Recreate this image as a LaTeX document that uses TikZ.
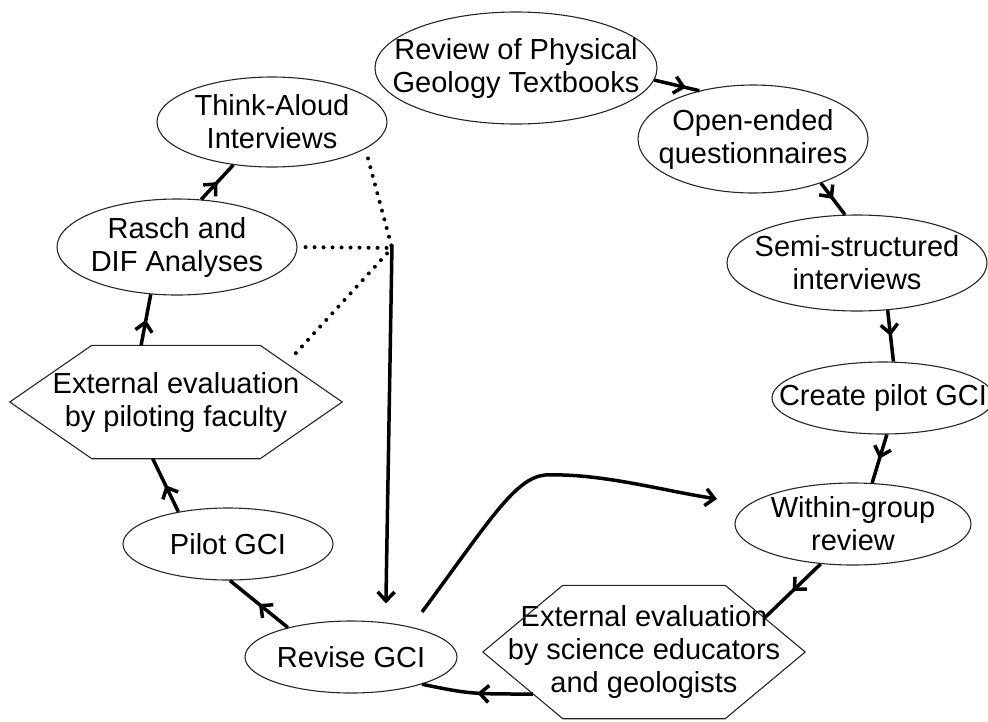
\documentclass[tikz,border=0pt]{standalone}
\usepackage{fontspec}
\setmainfont{Liberation Sans}
\usetikzlibrary{shapes,arrows.meta,positioning,calc,decorations.markings}

\begin{document}
\begin{tikzpicture}[
    x=1pt, y=-1pt,
    >={Straight Barb[length=9pt,width=17pt]},
    oval/.style={ellipse, draw=black!85, line width=1.1pt, inner sep=0pt},
    txt/.style={align=center, font=\fontsize{29}{33}\selectfont},
    hexbox/.style={rectangle, inner sep=0pt, align=center, font=\fontsize{29}{33}\selectfont},
    hexline/.style={draw=black!85, line width=1.1pt},
    link/.style={line width=3.5pt, postaction={decorate, decoration={markings, mark=at position #1 with {\arrow{>}}}}},
    link/.default=0.5,
    arrow/.style={line width=3.5pt, ->},
    dotline/.style={line width=4pt, line cap=round, dash pattern=on 0pt off 9pt}
]
    \useasboundingbox (0,0) rectangle (988,721);

    % right branch
    \node[oval, minimum width=282pt, minimum height=112pt, label={[txt]center:{Review of Physical\\Geology Textbooks}}] (review) at (516,68) {};
    \node[oval, minimum width=230pt, minimum height=108pt, label={[txt]center:{Open-ended\\questionnaires}}] (openq) at (753,139) {};
    \node[oval, minimum width=260pt, minimum height=96pt, label={[txt]center:{Semi-structured\\interviews}}] (semi) at (857,263) {};
    \node[oval, minimum width=222pt, minimum height=72pt, label={[txt]center:{Create pilot GCI}}] (create) at (883,398) {};
    \node[oval, minimum width=236pt, minimum height=82pt, label={[txt]center:{Within-group\\review}}] (within) at (853,524) {};
    \node[hexbox, minimum width=322pt, minimum height=133pt] (scieval) at (644,652) {External evaluation\\by science educators\\and geologists};

    % left branch
    \node[oval, minimum width=212pt, minimum height=72pt, label={[txt]center:{Revise GCI}}] (revise) at (351,657) {};
    \node[oval, minimum width=210pt, minimum height=72pt, label={[txt]center:{Pilot GCI}}] (pilot) at (228,544) {};
    \node[hexbox, minimum width=332pt, minimum height=113pt] (faculty) at (176,402) {External evaluation\\by piloting faculty};
    \node[oval, minimum width=240pt, minimum height=96pt, label={[txt]center:{Rasch and\\DIF Analyses}}] (rasch) at (177,247) {};
    \node[oval, minimum width=230pt, minimum height=90pt, label={[txt]center:{Think-Aloud\\Interviews}}] (think) at (272,122) {};

    % hexagon outlines
    \draw[hexline] (scieval.west) -- ([xshift=80pt]scieval.north west) -- ([xshift=-80pt]scieval.north east) -- (scieval.east)
        -- ([xshift=-80pt]scieval.south east) -- ([xshift=80pt]scieval.south west) -- cycle;
    \draw[hexline] (faculty.west) -- ([xshift=82pt]faculty.north west) -- ([xshift=-82pt]faculty.north east) -- (faculty.east)
        -- ([xshift=-82pt]faculty.south east) -- ([xshift=82pt]faculty.south west) -- cycle;

    % cycle
    \draw[link=0.7] (review.-5) -- (openq.138);
    \draw[link] (openq.-33) -- (semi.104);
    \draw[link] (semi.-57) -- (create.74);
    \draw[link] (create.-84) -- (within.65);
    \draw[link] (within.231) -- ($([xshift=-80pt]scieval.north east)!0.49!(scieval.east)$);
    \draw[link] ($(scieval.west)!0.63!([xshift=80pt]scieval.south west)$) .. controls (470,694) .. (revise.-21);
    \draw[link] (revise.155) -- (pilot.-87);
    \draw[link] (pilot.147) -- ($(faculty.south west)!0.43!(faculty.south east)$);
    \draw[link] ($(faculty.north west)!0.395!(faculty.north east)$) -- (rasch.241);
    \draw[link] (rasch.63) -- (think.228);

    % feedback
    \coordinate (hub) at (392,248);
    \draw[dotline, shorten <=10pt] (think.-16) -- (hub);
    \draw[dotline, shorten <=8pt] (rasch.east) -- (hub);
    \draw[dotline, shorten <=14pt] ($([xshift=-82pt]faculty.north east)!0.32!(faculty.east)$) -- (hub);
    \draw[arrow, shorten >=19pt] ([yshift=3pt]hub) -- (revise.45);

    \coordinate (cstart) at (422,612);
    \coordinate (cend) at (717,499);
    \draw[arrow] (cstart) .. controls (490,520) and (515,478) .. (545,475) .. controls (600,473) and (660,490) .. (cend);
\end{tikzpicture}
\end{document}
